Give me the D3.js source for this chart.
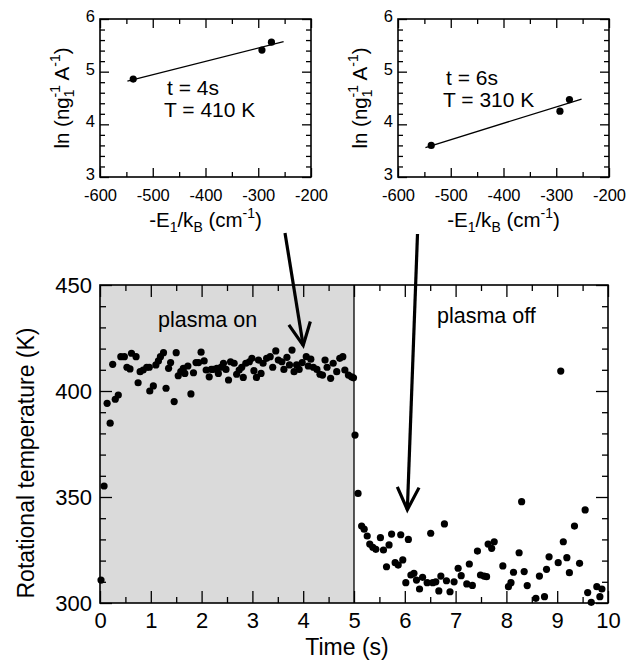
<!doctype html>
<html>
<head>
<meta charset="utf-8">
<script src="https://d3js.org/d3.v7.min.js"></script>
<style>
    body { margin: 0; background: #fff; }
    text { font-family: "Liberation Sans", Arial, sans-serif; fill: #000; }
</style>
</head>
<body>
<svg width="626" height="663"></svg>
<script>
// plasma on (0 - 5 s)
var onTime = [0.02,0.08,0.14,0.20,0.25,0.30,0.36,0.41,0.48,0.53,0.59,0.62,0.71,0.75,0.79,0.85,0.92,0.97,0.98,1.05,
  1.10,1.15,1.19,1.25,1.30,1.35,1.39,1.46,1.50,1.54,1.59,1.64,1.67,1.73,1.79,1.84,1.89,1.94,1.99,2.05,
  2.09,2.15,2.19,2.23,2.30,2.33,2.38,2.43,2.48,2.53,2.57,2.64,2.69,2.74,2.79,2.82,2.87,2.94,2.99,3.03,
  3.08,3.12,3.17,3.21,3.28,3.35,3.40,3.46,3.51,3.58,3.62,3.68,3.73,3.78,3.82,3.87,3.92,3.98,4.06,4.10,
  4.15,4.20,4.27,4.33,4.38,4.43,4.47,4.54,4.59,4.66,4.72,4.78,4.82,4.89,4.95,4.99];
var onTemp = [310.8,355.2,394.2,384.8,412.6,396.1,398.1,416.2,416.2,411.2,410.4,417.8,416.2,403.9,409.1,409.9,411.2,411.2,400.0,402.4,
  412.3,414.2,416.2,418.1,401.3,410.7,413.4,395.0,418.1,407.2,409.1,410.7,408.3,411.8,398.6,408.6,413.4,413.4,418.3,414.2,
  409.9,406.7,410.2,410.2,410.7,408.3,411.2,413.1,410.2,405.2,413.8,413.1,407.9,409.9,411.2,406.4,413.1,413.8,415.4,409.6,
  406.4,414.6,408.3,413.1,415.4,416.2,411.2,418.9,414.6,413.8,410.2,415.9,412.3,419.3,409.1,412.3,410.2,413.4,416.2,411.8,
  415.0,411.2,410.2,407.9,407.5,414.6,411.2,406.0,413.1,409.1,415.4,416.2,409.9,407.5,406.7,406.2];

// plasma off (5 - 10 s)
var offTime = [5.02,5.08,5.15,5.20,5.26,5.31,5.37,5.43,5.52,5.58,5.64,5.69,5.74,5.81,5.87,5.92,5.96,6.02,6.07,6.12,
  6.18,6.23,6.29,6.35,6.44,6.51,6.55,6.61,6.67,6.71,6.78,6.82,6.89,6.97,7.05,7.11,7.22,7.27,7.33,7.43,
  7.49,7.56,7.61,7.64,7.71,7.76,7.93,8.04,8.09,8.14,8.25,8.30,8.35,8.41,8.58,8.65,8.75,8.79,8.84,9.02,
  9.07,9.12,9.19,9.24,9.34,9.44,9.55,9.60,9.67,9.78,9.84,9.88];
var offTemp = [379.2,351.7,336.3,334.8,331.6,327.8,326.3,325.3,330.8,325.0,317.1,327.4,332.5,319.0,317.9,332.2,320.3,309.6,330.0,313.2,
  314.0,310.8,306.6,312.1,309.6,332.9,309.6,310.0,305.7,312.7,337.3,310.5,305.3,310.0,316.4,312.9,309.0,318.4,308.3,324.5,
  313.2,312.7,312.4,327.8,325.8,328.9,317.5,307.7,309.6,314.5,323.7,347.8,314.8,308.2,302.2,312.7,303.0,315.9,321.8,319.0,
  409.4,328.9,321.4,314.3,336.3,318.7,343.9,304.9,300.3,307.7,303.0,306.6];

// insets: Boltzmann plots
var insetE = [-537, -293, -275];
var inset1Ln = [4.86, 5.41, 5.56];
var inset2Ln = [3.60, 4.25, 4.47];
var fitE = [-548, -252];
var fit1Ln = [4.82, 5.57];
var fit2Ln = [3.56, 4.48];
var insetXTicks = [-600, -500, -400, -300, -200];
var insetYTicks = [3, 4, 5, 6];

var mainXTicks = d3.range(0, 11);
var mainYTicks = [300, 350, 400, 450];

var svg = d3.select("svg");
var plain = function(d) { return String(d); };

function frameAxes(g, x, y, xMaj, xMin, yMaj, yMin, big, small, fs, padX, padY, yDy) {
    var r = x.range(), t = y.range();
    var x0 = r[0], x1 = r[1], y0 = t[1], y1 = t[0];
    g.append("g").attr("transform", "translate(0," + y1 + ")")
        .call(d3.axisBottom(x).tickValues(xMaj).tickSize(-big).tickPadding(padX).tickFormat(plain));
    g.append("g").attr("transform", "translate(0," + y1 + ")")
        .call(d3.axisBottom(x).tickValues(xMin).tickSize(-small).tickFormat(""));
    g.append("g").attr("transform", "translate(0," + y0 + ")")
        .call(d3.axisTop(x).tickValues(xMaj).tickSize(-big).tickFormat(""));
    g.append("g").attr("transform", "translate(0," + y0 + ")")
        .call(d3.axisTop(x).tickValues(xMin).tickSize(-small).tickFormat(""));
    var yl = g.append("g").attr("transform", "translate(" + x0 + ",0)")
        .call(d3.axisLeft(y).tickValues(yMaj).tickSize(-big).tickPadding(padY).tickFormat(plain));
    if (yDy) yl.selectAll(".tick text").attr("dy", yDy);
    g.append("g").attr("transform", "translate(" + x0 + ",0)")
        .call(d3.axisLeft(y).tickValues(yMin).tickSize(-small).tickFormat(""));
    g.append("g").attr("transform", "translate(" + x1 + ",0)")
        .call(d3.axisRight(y).tickValues(yMaj).tickSize(-big).tickFormat(""));
    g.append("g").attr("transform", "translate(" + x1 + ",0)")
        .call(d3.axisRight(y).tickValues(yMin).tickSize(-small).tickFormat(""));
    g.selectAll(".domain").remove();
    g.selectAll(".tick line").attr("stroke", "#000").attr("stroke-width", 1.3);
    g.selectAll(".tick text").attr("font-size", fs + "px").attr("font-family", "Liberation Sans, Arial, sans-serif").attr("fill", "#000");
    g.append("rect").attr("x", x0).attr("y", y0).attr("width", x1 - x0).attr("height", y1 - y0)
        .attr("fill", "none").attr("stroke", "#000").attr("stroke-width", 1.6);
}

// ---------- main plot ----------
var x = d3.scaleLinear().domain([0, 10]).range([100, 608]);
var y = d3.scaleLinear().domain([300, 450]).range([603, 285]);

var main = svg.append("g");
main.append("rect")
    .attr("x", x(0)).attr("y", y(450))
    .attr("width", x(5) - x(0)).attr("height", y(300) - y(450))
    .attr("fill", "#dadada");
main.append("line")
    .attr("x1", x(5)).attr("x2", x(5)).attr("y1", y(300)).attr("y2", y(450))
    .attr("stroke", "#000").attr("stroke-width", 1.3);

main.selectAll(".on").data(onTime).enter().append("circle")
    .attr("cx", function(d) { return x(d); })
    .attr("cy", function(d, i) { return y(onTemp[i]); })
    .attr("r", 3.6).attr("fill", "#000");
main.selectAll(".off").data(offTime).enter().append("circle")
    .attr("cx", function(d) { return x(d); })
    .attr("cy", function(d, i) { return y(offTemp[i]); })
    .attr("r", 3.6).attr("fill", "#000");

frameAxes(main, x, y, mainXTicks, d3.range(0.5, 10, 1), mainYTicks, d3.range(310, 450, 10).filter(function(d) { return d % 50; }),
    12, 6, 22, 9, 8);

main.append("text").attr("x", 158).attr("y", 327).attr("font-size", "21.5px").text("plasma on");
main.append("text").attr("x", 437).attr("y", 323).attr("font-size", "21.5px").text("plasma off");

main.append("text").attr("x", 347).attr("y", 655).attr("text-anchor", "middle")
    .attr("font-size", "23px").text("Time (s)");
main.append("text").attr("transform", "translate(34,463) rotate(-90)")
    .attr("text-anchor", "middle").attr("font-size", "23px").text("Rotational temperature (K)");

// ---------- insets ----------
function inset(x0, lnVals, fitVals, line1, line2, tx, ty) {
    var ix = d3.scaleLinear().domain([-600, -200]).range([x0, x0 + 211]);
    var iy = d3.scaleLinear().domain([3, 6]).range([177, 19]);
    var g = svg.append("g");
    frameAxes(g, ix, iy, insetXTicks, d3.range(-550, -200, 100), insetYTicks,
        d3.range(3.2, 6, 0.2).filter(function(d) { return Math.abs(d - Math.round(d)) > 0.01; }),
        9, 5, 16.5, 12, 5, "0.15em");
    g.append("line")
        .attr("x1", ix(fitE[0])).attr("y1", iy(fitVals[0]))
        .attr("x2", ix(fitE[1])).attr("y2", iy(fitVals[1]))
        .attr("stroke", "#000").attr("stroke-width", 1.3);
    g.selectAll(".pt").data(insetE).enter().append("circle")
        .attr("cx", function(d) { return ix(d); })
        .attr("cy", function(d, i) { return iy(lnVals[i]); })
        .attr("r", 3.6).attr("fill", "#000");
    g.append("text").attr("x", tx).attr("y", ty).attr("font-size", "21px").text(line1);
    g.append("text").attr("x", tx - 3).attr("y", ty + 22).attr("font-size", "21px").text(line2);

    // x label: -E1/kB (cm-1)
    var xl = g.append("text").attr("x", (ix(-600) + ix(-200)) / 2).attr("y", 227)
        .attr("text-anchor", "middle").attr("font-size", "20.5px");
    xl.append("tspan").text("-E");
    xl.append("tspan").attr("dy", 5).attr("font-size", "14px").text("1");
    xl.append("tspan").attr("dy", -5).text("/k");
    xl.append("tspan").attr("dy", 5).attr("font-size", "14px").text("B");
    xl.append("tspan").attr("dy", -5).text(" (cm");
    xl.append("tspan").attr("dy", -9).attr("font-size", "14px").text("-1");
    xl.append("tspan").attr("dy", 9).text(")");

    // y label: ln (ng1^-1 A^-1)
    var yl = g.append("text")
        .attr("transform", "translate(" + (x0 - 31) + "," + ((iy(3) + iy(6)) / 2) + ") rotate(-90)")
        .attr("text-anchor", "middle").attr("font-size", "20.5px");
    yl.append("tspan").text("ln (ng");
    yl.append("tspan").attr("dy", 5).attr("font-size", "14px").text("1");
    yl.append("tspan").attr("dy", -14).attr("dx", -8).attr("font-size", "14px").text("-1");
    yl.append("tspan").attr("dy", 9).text(" A");
    yl.append("tspan").attr("dy", -9).attr("font-size", "14px").text("-1");
    yl.append("tspan").attr("dy", 9).text(")");
    return ix;
}

inset(100, inset1Ln, fit1Ln, "t = 4s", "T = 410 K", 167, 95);
inset(398, inset2Ln, fit2Ln, "t = 6s", "T = 310 K", 446, 85);

// ---------- arrows ----------
function arrow(sx, sy, tipT, tipK) {
    var ex = x(tipT), ey = y(tipK);
    var a = Math.atan2(ey - sy, ex - sx);
    var len = 25, spread = 0.45;
    svg.append("line").attr("x1", sx).attr("y1", sy).attr("x2", ex).attr("y2", ey)
        .attr("stroke", "#000").attr("stroke-width", 3.2);
    svg.append("path")
        .attr("d", "M" + (ex - len * Math.cos(a - spread)) + "," + (ey - len * Math.sin(a - spread)) +
            "L" + ex + "," + ey +
            "L" + (ex - len * Math.cos(a + spread)) + "," + (ey - len * Math.sin(a + spread)))
        .attr("fill", "none").attr("stroke", "#000").attr("stroke-width", 3.2)
        .attr("stroke-linejoin", "miter");
}
arrow(285, 233, 4.0, 421.5);
arrow(417.5, 234, 6.05, 344);
</script>
</body>
</html>
